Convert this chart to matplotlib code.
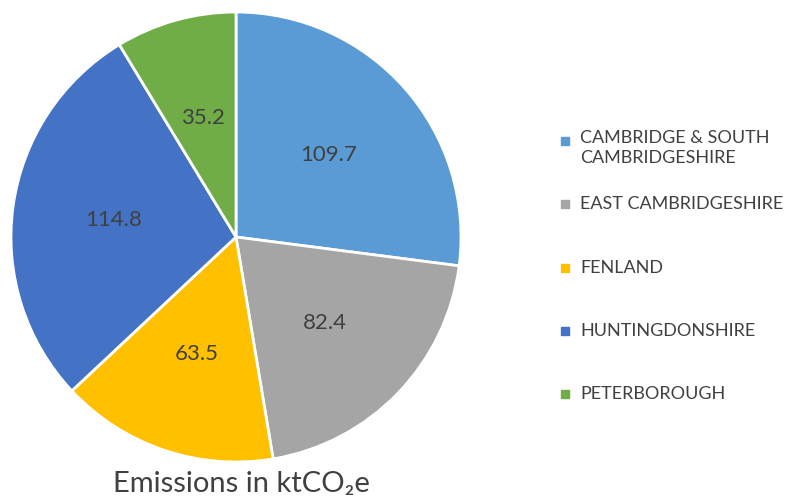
import matplotlib.pyplot as plt
from matplotlib.patches import Rectangle

regions = ["CAMBRIDGE & SOUTH\nCAMBRIDGESHIRE", "EAST CAMBRIDGESHIRE", "FENLAND",
           "HUNTINGDONSHIRE", "PETERBOROUGH"]
emissions = [109.7, 82.4, 63.5, 114.8, 35.2]
colors = ["#5B9BD5", "#A5A5A5", "#FFC000", "#4472C4", "#70AD47"]
title = "Emissions in ktCO\u2082e"

plt.rcParams['font.family'] = ['Lato', 'DejaVu Sans']
txt_col = "#404040"

W, H = 789, 501
fig = plt.figure(figsize=(W / 100, H / 100), dpi=100)
cx, cy, r = 236, 237, 225
ax = fig.add_axes([(cx - r) / W, (H - cy - r) / H, 2 * r / W, 2 * r / H])

total = sum(emissions)
wedges, texts, autotexts = ax.pie(
    emissions, colors=colors, startangle=90, counterclock=False,
    autopct=lambda p: "%.1f" % (p * total / 100), pctdistance=0.55,
    wedgeprops=dict(edgecolor="white", linewidth=2),
    textprops=dict(color=txt_col, fontsize=16))
ax.set_xlim(-1, 1)
ax.set_ylim(-1, 1)
ax.set_aspect("equal")

# legend drawn by hand (Excel style spacing)
rows_y = [141, 204, 268, 331, 394]
for lab, col, yy in zip(regions, colors, rows_y):
    fig.add_artist(Rectangle(((561) / W, (H - yy - 4) / H), 8 / W, 8 / H,
                             transform=fig.transFigure, color=col))
    fig.text(580 / W, (H - yy) / H, lab, color=txt_col, fontsize=13,
             va="top" if "\n" in lab else "center", ha="left",
             linespacing=1.3)
# first entry is two lines; shift so first line centres on the square
fig.texts[0].set_position((580 / W, (H - 141 + 11) / H))

fig.text(241 / W, (H - 484) / H, title, color=txt_col, fontsize=21,
         ha="center", va="center")

fig.savefig("out.png", dpi=100)
